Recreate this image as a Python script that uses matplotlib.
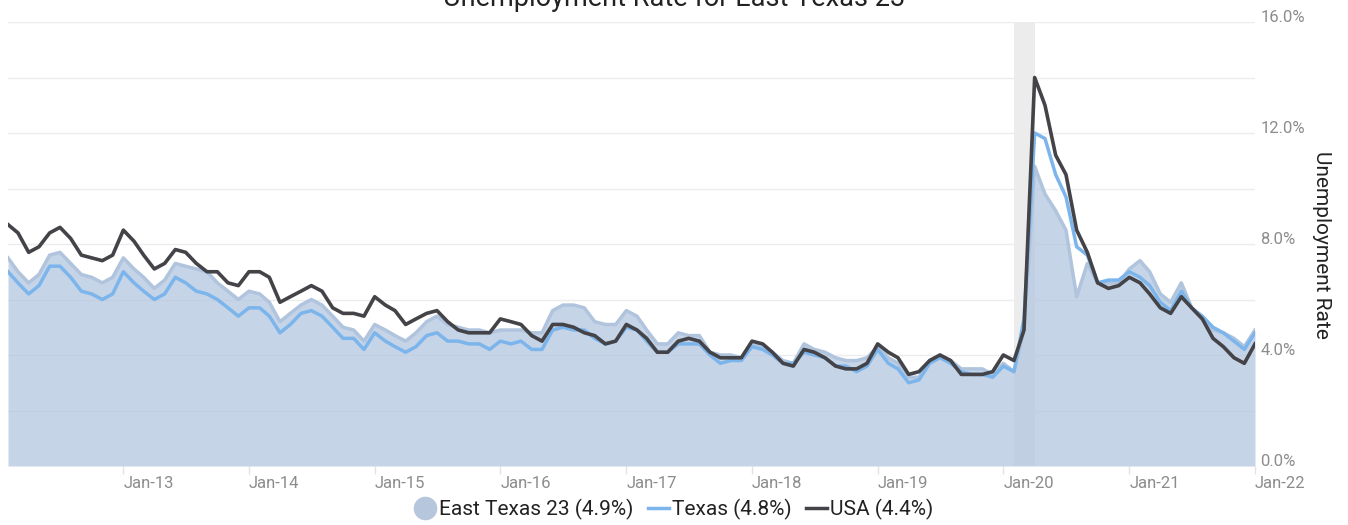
import numpy as np
import pandas as pd
import matplotlib
matplotlib.use("Agg")
from matplotlib import pyplot as plt
from matplotlib.lines import Line2D

plt.rcParams['font.family'] = ['Roboto', 'DejaVu Sans']

# monthly, Feb 2012 .. Jan 2022
months = pd.date_range("2012-02-01", periods=120, freq="MS")

east_texas = [7.5, 7.0, 6.6, 6.9, 7.6, 7.7, 7.3, 6.9, 6.8, 6.6, 6.8,
              7.5, 7.1, 6.8, 6.4, 6.7, 7.3, 7.2, 7.1, 7.0, 6.6, 6.3, 6.0,
              6.3, 6.2, 5.9, 5.2, 5.5, 5.8, 6.0, 5.8, 5.4, 5.0, 4.9, 4.5,
              5.1, 4.9, 4.7, 4.5, 4.8, 5.2, 5.4, 5.1, 5.0, 4.9, 4.9, 4.8,
              4.9, 4.9, 4.9, 4.8, 4.8, 5.6, 5.8, 5.8, 5.7, 5.2, 5.1, 5.1,
              5.6, 5.4, 4.9, 4.4, 4.4, 4.8, 4.7, 4.7, 4.1, 4.0, 4.0, 3.9,
              4.4, 4.3, 4.1, 3.8, 3.7, 4.4, 4.2, 4.1, 3.9, 3.8, 3.8, 3.9,
              4.3, 3.9, 3.7, 3.2, 3.2, 3.8, 4.0, 3.8, 3.5, 3.5, 3.5, 3.3,
              3.7, 3.4, 4.9, 10.8, 9.8, 9.2, 8.5, 6.1, 7.3, 6.6, 6.6, 6.6,
              7.1, 7.4, 7.0, 6.2, 5.9, 6.6, 5.7, 5.3, 4.9, 4.8, 4.6, 4.3,
              4.9]

texas = [7.0, 6.6, 6.2, 6.5, 7.2, 7.2, 6.8, 6.3, 6.2, 6.0, 6.2,
         7.0, 6.6, 6.3, 6.0, 6.2, 6.8, 6.6, 6.3, 6.2, 6.0, 5.7, 5.4,
         5.7, 5.7, 5.4, 4.8, 5.1, 5.5, 5.6, 5.4, 5.0, 4.6, 4.6, 4.2,
         4.8, 4.5, 4.3, 4.1, 4.3, 4.7, 4.8, 4.5, 4.5, 4.4, 4.4, 4.2,
         4.5, 4.4, 4.5, 4.2, 4.2, 4.9, 5.0, 4.9, 4.9, 4.6, 4.4, 4.5,
         5.0, 4.9, 4.5, 4.1, 4.1, 4.4, 4.4, 4.4, 4.0, 3.7, 3.8, 3.8,
         4.3, 4.2, 4.0, 3.7, 3.7, 4.1, 4.0, 3.9, 3.6, 3.6, 3.4, 3.6,
         4.2, 3.7, 3.5, 3.0, 3.1, 3.7, 3.9, 3.7, 3.4, 3.3, 3.3, 3.2,
         3.6, 3.4, 5.3, 12.0, 11.8, 10.5, 9.7, 7.9, 7.6, 6.6, 6.7, 6.7,
         7.0, 6.8, 6.5, 5.9, 5.6, 6.3, 5.7, 5.4, 5.0, 4.8, 4.5, 4.2,
         4.8]

usa = [8.7, 8.4, 7.7, 7.9, 8.4, 8.6, 8.2, 7.6, 7.5, 7.4, 7.6,
       8.5, 8.1, 7.6, 7.1, 7.3, 7.8, 7.7, 7.3, 7.0, 7.0, 6.6, 6.5,
       7.0, 7.0, 6.8, 5.9, 6.1, 6.3, 6.5, 6.3, 5.7, 5.5, 5.5, 5.4,
       6.1, 5.8, 5.6, 5.1, 5.3, 5.5, 5.6, 5.2, 4.9, 4.8, 4.8, 4.8,
       5.3, 5.2, 5.1, 4.7, 4.5, 5.1, 5.1, 5.0, 4.8, 4.7, 4.4, 4.5,
       5.1, 4.9, 4.6, 4.1, 4.1, 4.5, 4.6, 4.5, 4.1, 3.9, 3.9, 3.9,
       4.5, 4.4, 4.1, 3.7, 3.6, 4.2, 4.1, 3.9, 3.6, 3.5, 3.5, 3.7,
       4.4, 4.1, 3.9, 3.3, 3.4, 3.8, 4.0, 3.8, 3.3, 3.3, 3.3, 3.4,
       4.0, 3.8, 4.9, 14.0, 13.0, 11.2, 10.5, 8.5, 7.7, 6.6, 6.4, 6.5,
       6.8, 6.6, 6.2, 5.7, 5.5, 6.1, 5.7, 5.3, 4.6, 4.3, 3.9, 3.7,
       4.4]

tick_dates = pd.date_range("2013-01-01", "2022-01-01", freq="YS")
tick_labels = ["Jan-13", "Jan-14", "Jan-15", "Jan-16", "Jan-17",
               "Jan-18", "Jan-19", "Jan-20", "Jan-21", "Jan-22"]
recession = (pd.Timestamp("2020-02-01"), pd.Timestamp("2020-04-01"))

W, H = 1348, 525
fig = plt.figure(figsize=(W / 100, H / 100), dpi=100)
ax = fig.add_axes([8 / W, 1 - 466 / H, (1255 - 8) / W, (466 - 22) / H])

ax.axvspan(recession[0], recession[1], color="#ececec", lw=0, zorder=0)
ax.fill_between(months, east_texas, color="#b0c4de", alpha=0.72, lw=0, zorder=2)
ax.plot(months, east_texas, color="#b0c4de", lw=2.5, zorder=2)
ax.plot(months, texas, color="#7cb5ec", lw=2.5, zorder=3)
ax.plot(months, usa, color="#434348", lw=2.6, zorder=4)

ax.set_xlim(months[0], months[-1])
ax.set_ylim(0, 16)

for s in ax.spines.values():
    s.set_visible(False)

ax.set_yticks(np.arange(0, 17, 2))
ax.set_yticklabels(["%.1f%%" % v if v % 4 == 0 else "" for v in range(0, 17, 2)])
ax.yaxis.tick_right()
ax.tick_params(axis="y", length=0, pad=4, labelsize=12, labelcolor="#8c8c8c")
for lab in ax.get_yticklabels():
    lab.set_va("baseline")
ax.grid(axis="y", color="#ececec", lw=1)
ax.set_axisbelow(True)

ax.set_xticks(tick_dates)
ax.set_xticklabels(tick_labels, ha="left")
ax.tick_params(axis="x", length=6, width=1, color="#e3e3e3", pad=1,
               labelsize=12, labelcolor="#8c8c8c")

fig.text(1322 / W, 1 - 245 / H, "Unemployment Rate", rotation=270,
         ha="center", va="center", fontsize=15, color="#222222")
fig.text(0.5, 1 - 6 / H, "Unemployment Rate for East Texas 23",
         ha="center", va="baseline", fontsize=19.5, color="#222222")

handles = [
    Line2D([], [], marker="o", ls="none", markersize=16, color="#b6c6dc"),
    Line2D([], [], color="#7cb5ec", lw=2.5),
    Line2D([], [], color="#434348", lw=2.5),
]
labels = ["East Texas 23 (4.9%)", "Texas (4.8%)", "USA (4.4%)"]
fig.legend(handles, labels, loc="center", ncol=3,
           bbox_to_anchor=(674 / W, 1 - 509 / H), frameon=False,
           fontsize=15, handlelength=1.0, handletextpad=0.15,
           columnspacing=0.7, labelcolor="#222222")

fig.savefig("out.png", dpi=100)
